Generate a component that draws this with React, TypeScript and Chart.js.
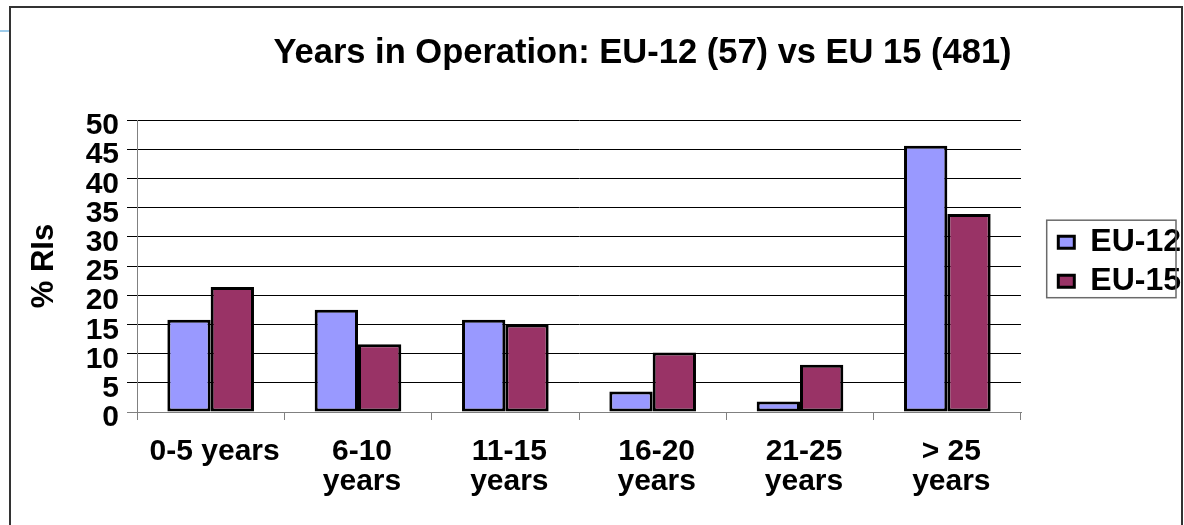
import React, { useEffect, useRef } from 'react';
import { Chart, registerables } from 'chart.js';

Chart.register(...registerables);

const chartTitle = 'Years in Operation: EU-12 (57) vs EU 15 (481)';
const yAxisTitle = '% RIs';
const categories: (string | string[])[] = [
  '0-5 years',
  ['6-10', 'years'],
  ['11-15', 'years'],
  ['16-20', 'years'],
  ['21-25', 'years'],
  ['> 25', 'years'],
];
const seriesNames = ['EU-12', 'EU-15'];
const eu12Values = [15.8, 17.5, 15.8, 3.5, 1.8, 45.6];
const eu15Values = [21.4, 11.6, 15.0, 10.2, 8.1, 33.9];
const yMin = 0;
const yMax = 50;
const yStep = 5;

const FONT = '"Liberation Sans", Arial, Helvetica, sans-serif';

const LEGEND_W = 163;
const LEGEND_SHIFT_X = 30.3;
const LEGEND_SHIFT_Y = -4.3;

const decorPlugin = {
  id: 'decor',
  beforeLayout(chart: any) {
    const legend = chart.legend;
    if (legend && !legend._patchedFit) {
      const origFit = legend.fit.bind(legend);
      legend.fit = function () {
        origFit();
        this.width = LEGEND_W;
      };
      legend._patchedFit = true;
    }
  },
  afterLayout(chart: any) {
    const l = chart.legend;
    if (!l) return;
    l.left += LEGEND_SHIFT_X;
    l.right += LEGEND_SHIFT_X;
    l.top += LEGEND_SHIFT_Y;
    l.bottom += LEGEND_SHIFT_Y;
  },
  afterDraw(chart: any) {
    const ctx = chart.ctx;
    ctx.save();
    // title
    ctx.font = `bold 34.5px ${FONT}`;
    ctx.fillStyle = '#000';
    ctx.textAlign = 'center';
    ctx.textBaseline = 'alphabetic';
    ctx.fillText(chartTitle, 642.5, 63);
    // legend frame
    const hbs = chart.legend && chart.legend.legendHitBoxes;
    if (hbs && hbs.length) {
      const first = hbs[0];
      const last = hbs[hbs.length - 1];
      const x = first.left - 11.6;
      const y = first.top - 6;
      const h = last.top + last.height + 0.5 - y;
      ctx.strokeStyle = '#6a6a6a';
      ctx.lineWidth = 1.5;
      ctx.strokeRect(x, y, 129.3, h);
    }
    ctx.restore();
  },
};

export default function App() {
  const ref = useRef<HTMLCanvasElement | null>(null);

  useEffect(() => {
    if (!ref.current) return;
    Chart.defaults.font.family = FONT;
    const chart = new Chart(ref.current, {
      type: 'bar',
      data: {
        labels: categories,
        datasets: [
          {
            label: seriesNames[0],
            data: eu12Values,
            backgroundColor: '#9999FF',
            borderColor: '#000000',
            borderWidth: 3,
            borderSkipped: false,
            categoryPercentage: 0.588,
            barPercentage: 1,
          },
          {
            label: seriesNames[1],
            data: eu15Values,
            backgroundColor: '#993366',
            borderColor: '#000000',
            borderWidth: 3,
            borderSkipped: false,
            categoryPercentage: 0.588,
            barPercentage: 1,
          },
        ],
      },
      options: {
        animation: false,
        responsive: false,
        devicePixelRatio: 1,
        layout: { padding: { top: 120, left: 0, right: 0, bottom: 0 } },
        plugins: {
          title: { display: false },
          tooltip: { enabled: false },
          legend: {
            position: 'right',
            fullSize: false,
            labels: {
              boxWidth: 16,
              boxHeight: 12,
              padding: 7,
              color: '#000',
              font: { family: FONT, size: 32, weight: 'bold' },
            },
          },
        },
        scales: {
          x: {
            offset: true,
            grid: {
              display: true,
              offset: true,
              drawOnChartArea: false,
              drawTicks: true,
              tickLength: 8,
              color: '#808080',
              lineWidth: 1,
            },
            border: { display: true, color: '#808080', width: 1 },
            ticks: {
              color: '#000',
              font: { family: FONT, size: 30, weight: 'bold', lineHeight: 1.0 },
              padding: 17,
              maxRotation: 0,
              minRotation: 0,
              autoSkip: false,
              labelOffset: 4,
            },
            afterFit: (s: any) => {
              s.height = 113;
            },
          },
          y: {
            min: yMin,
            max: yMax,
            grid: {
              color: (c: any) => (c.tick && c.tick.value === 0 ? '#808080' : '#000000'),
              lineWidth: 1,
              tickLength: 10,
            },
            border: { display: true, color: '#808080', width: 1 },
            ticks: {
              stepSize: yStep,
              autoSkip: false,
              color: '#000',
              font: { family: FONT, size: 30, weight: 'bold', lineHeight: 1.0 },
              padding: 8,
              labelOffset: 6,
            },
            title: {
              display: true,
              text: yAxisTitle,
              color: '#000',
              font: { family: FONT, size: 31, weight: 'bold' },
              padding: { top: 26, bottom: 0 },
            },
            afterFit: (s: any) => {
              s.width = 137;
            },
          },
        },
      },
      plugins: [decorPlugin],
    } as any);
    return () => chart.destroy();
  }, []);

  return (
    <div
      style={{
        position: 'absolute',
        left: 0,
        top: 0,
        width: 1184,
        height: 525,
        overflow: 'hidden',
        background: '#fff',
      }}
    >
      <canvas ref={ref} width={1184} height={525} style={{ position: 'absolute', left: 0, top: 0 }} />
      <div
        style={{
          position: 'absolute',
          left: 9,
          top: 6,
          width: 1174,
          height: 600,
          boxSizing: 'border-box',
          border: '2px solid #333',
          pointerEvents: 'none',
        }}
      />
      <div
        style={{
          position: 'absolute',
          left: 0,
          top: 30,
          width: 9,
          height: 2,
          background: '#9DCBEA',
        }}
      />
    </div>
  );
}
